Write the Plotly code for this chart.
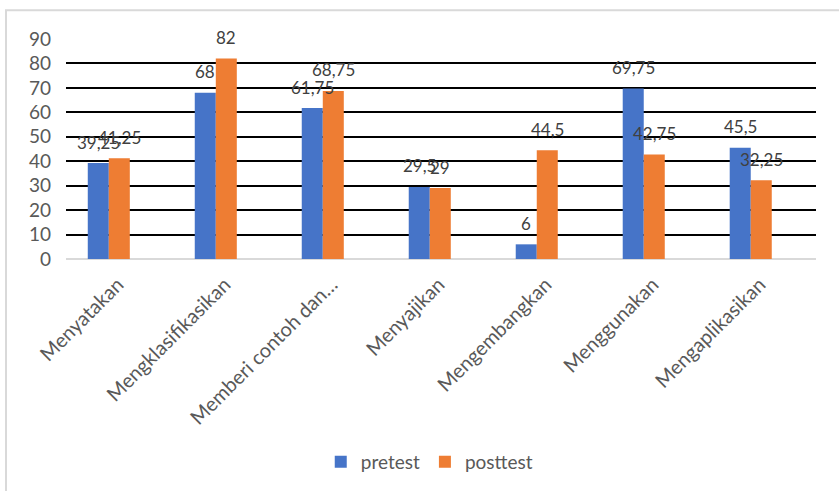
import plotly.graph_objects as go

categories = ["Menyatakan", "Mengklasifikasikan", "Memberi contoh dan…", "Menyajikan",
              "Mengembangkan", "Menggunakan", "Mengaplikasikan"]
pretest = [39.25, 68, 61.75, 29.5, 6, 69.75, 45.5]
posttest = [41.25, 82, 68.75, 29, 44.5, 42.75, 32.25]
y_ticks = [0, 10, 20, 30, 40, 50, 60, 70, 80, 90]

FONT = "Lato"
GREY = "#595959"
BLUE = "#4674C8"
ORANGE = "#EE7D33"


def fmt(v):
    return ("%g" % v).replace(".", ",")


fig = go.Figure()
fig.add_trace(go.Bar(name="pretest", x=categories, y=pretest, marker=dict(color=BLUE, line=dict(width=0))))
fig.add_trace(go.Bar(name="posttest", x=categories, y=posttest, marker=dict(color=ORANGE, line=dict(width=0))))

annotations = []
for vals, shift in ((pretest, -10.5), (posttest, 10.5)):
    for c, v in zip(categories, vals):
        annotations.append(dict(x=c, y=v, xref="x", yref="y", text=fmt(v), showarrow=False,
                                xshift=shift, yshift=21, xanchor="center", yanchor="middle",
                                font=dict(family=FONT, size=17, color="#404040")))

fig.update_layout(
    width=839, height=491,
    margin=dict(l=66, r=23, t=39, b=231),
    paper_bgcolor="white", plot_bgcolor="white",
    barmode="group", bargap=0.607, bargroupgap=0,
    font=dict(family=FONT, size=17, color=GREY),
    showlegend=True,
    legend=dict(orientation="h", x=0.485, xanchor="center", y=-0.914, yanchor="middle",
                font=dict(family=FONT, size=19, color=GREY), itemwidth=30,
                traceorder="normal"),
    annotations=annotations,
    shapes=[dict(type="rect", xref="paper", yref="paper", x0=-0.08, x1=1.1, y0=-1.2, y1=1.131,
                 line=dict(color="#D9D9D9", width=2), fillcolor="rgba(0,0,0,0)", layer="below")],
    xaxis=dict(type="category", range=[-0.4, 6.61], showgrid=False, showline=False, ticks="",
               tickangle=-45, ticklabelshift=9, ticklabelstandoff=9,
               tickfont=dict(family=FONT, size=20, color=GREY)),
    yaxis=dict(range=[0, 90], tickvals=y_ticks, ticktext=[str(t) for t in y_ticks],
               showgrid=True, gridcolor="black", gridwidth=2,
               zeroline=True, zerolinecolor="#D9D9D9", zerolinewidth=2,
               showline=False, ticks="", ticklabelstandoff=14,
               tickfont=dict(family=FONT, size=19, color=GREY)),
)

fig.write_html("out.html")
